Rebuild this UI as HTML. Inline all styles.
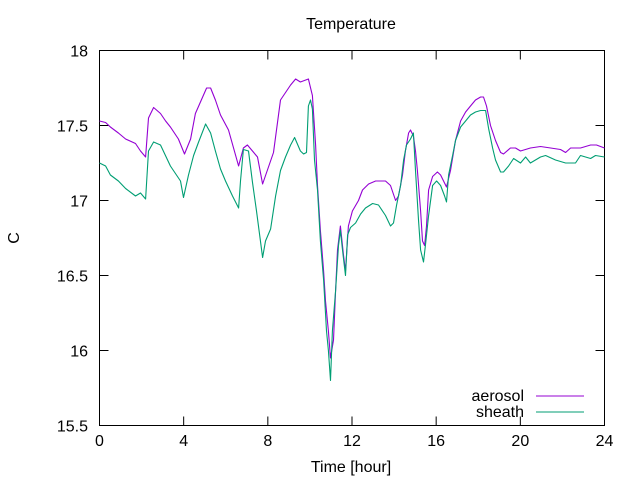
<!DOCTYPE html>
<html><head><meta charset="utf-8"><style>
html,body{margin:0;padding:0;background:#fff;}
svg{display:block;font-family:"Liberation Sans",Arial,sans-serif;}
</style></head><body>
<svg id="chart" width="640" height="480" viewBox="0 0 640 480" xmlns="http://www.w3.org/2000/svg">
<rect width="640" height="480" fill="#fff"/>
<g id="axes"></g>
<g id="series"></g>
<text x="351" y="29" font-size="16" text-anchor="middle">Temperature</text>
<text x="351" y="472" font-size="16" text-anchor="middle">Time [hour]</text>
<text x="19" y="238" font-size="16" text-anchor="middle" transform="rotate(-90 19 238)">C</text>
<g>
<text x="524" y="401" font-size="16" text-anchor="end">aerosol</text>
<line x1="536" y1="396" x2="584" y2="396" stroke="#9400d3" stroke-width="1"/>
<text x="524" y="417" font-size="16" text-anchor="end">sheath</text>
<line x1="536" y1="412" x2="584" y2="412" stroke="#009e73" stroke-width="1"/>
</g>
</svg>
<script>
const xTicks=[0,4,8,12,16,20,24];
const yTicks=[15.5,16,16.5,17,17.5,18];
const yTickLabels=["15.5","16","16.5","17","17.5","18"];
const aerosolHours=[0,0.29,0.52,0.9,1.24,1.71,1.95,2.19,2.33,2.57,2.9,3.14,3.37,3.75,4.04,4.33,4.56,5.09,5.28,5.51,5.75,6.13,6.61,6.84,7.03,7.51,7.75,8.27,8.6,9.08,9.32,9.55,9.93,10.12,10.27,10.36,10.5,10.65,10.74,10.88,10.98,11.12,11.22,11.31,11.45,11.6,11.69,11.83,12.02,12.31,12.5,12.79,13.12,13.59,13.83,14.07,14.21,14.4,14.54,14.69,14.78,14.92,15.02,15.11,15.26,15.35,15.45,15.54,15.64,15.83,16.06,16.21,16.49,16.68,16.92,17.16,17.4,17.63,17.87,18.11,18.25,18.39,18.58,18.82,19.06,19.2,19.53,19.77,20.01,20.48,20.96,21.44,21.91,22.15,22.39,22.86,23.34,23.62,24];
const aerosolValues=[17.53,17.52,17.49,17.45,17.41,17.38,17.33,17.29,17.55,17.62,17.58,17.53,17.49,17.41,17.31,17.41,17.58,17.75,17.75,17.67,17.57,17.47,17.23,17.35,17.37,17.29,17.11,17.32,17.67,17.77,17.81,17.79,17.81,17.7,17.37,17.1,16.8,16.53,16.33,16.13,15.95,16.07,16.4,16.67,16.83,16.63,16.53,16.83,16.93,17,17.07,17.11,17.13,17.13,17.1,17,17.03,17.17,17.33,17.45,17.47,17.43,17.33,17.2,16.93,16.73,16.7,16.83,17.07,17.16,17.19,17.17,17.09,17.2,17.4,17.53,17.59,17.63,17.67,17.69,17.69,17.63,17.5,17.4,17.32,17.31,17.35,17.35,17.33,17.35,17.36,17.35,17.34,17.32,17.35,17.35,17.37,17.37,17.35];
const sheathHours=[0,0.29,0.52,0.9,1.24,1.71,1.95,2.19,2.33,2.57,2.9,3.37,3.85,3.99,4.23,4.47,4.71,5.04,5.28,5.51,5.75,5.99,6.32,6.61,6.7,6.84,7.08,7.27,7.46,7.75,7.89,8.13,8.37,8.6,8.84,9.08,9.27,9.55,9.7,9.84,9.93,10.03,10.12,10.22,10.36,10.5,10.65,10.79,10.88,10.98,11.07,11.22,11.36,11.45,11.55,11.69,11.79,11.93,12.17,12.41,12.64,12.98,13.26,13.59,13.83,13.97,14.12,14.31,14.45,14.59,14.78,14.92,15.02,15.16,15.26,15.4,15.49,15.64,15.83,16.02,16.21,16.4,16.49,16.59,16.78,16.92,17.16,17.4,17.63,17.87,18.11,18.35,18.49,18.68,18.82,19.06,19.2,19.44,19.68,20.01,20.25,20.48,20.96,21.2,21.67,22.15,22.62,22.86,23.34,23.57,24];
const sheathValues=[17.25,17.23,17.17,17.13,17.08,17.03,17.05,17.01,17.33,17.39,17.37,17.23,17.13,17.02,17.17,17.3,17.39,17.51,17.45,17.33,17.21,17.13,17.03,16.95,17.13,17.34,17.33,17.12,16.93,16.62,16.73,16.81,17.03,17.2,17.29,17.37,17.42,17.33,17.31,17.32,17.63,17.67,17.61,17.27,17.07,16.73,16.47,16.13,16,15.8,16.13,16.4,16.7,16.8,16.67,16.5,16.77,16.82,16.85,16.91,16.95,16.98,16.97,16.9,16.83,16.85,16.97,17.1,17.27,17.37,17.41,17.45,17.2,16.87,16.67,16.59,16.7,16.9,17.1,17.13,17.1,17.03,16.99,17.17,17.3,17.4,17.49,17.53,17.57,17.59,17.6,17.6,17.48,17.35,17.27,17.19,17.19,17.23,17.28,17.25,17.29,17.25,17.29,17.3,17.27,17.25,17.25,17.3,17.28,17.3,17.29];

const X0=99.5,X1=604.5,Y0=425.5,Y1=50.5;
const xs=h=>X0+(X1-X0)*(h-0)/24;
const ys=v=>Y0-(Y0-Y1)*(v-15.5)/2.5;
const NS='http://www.w3.org/2000/svg';
const axes=document.getElementById('axes');
const series=document.getElementById('series');
function mk(tag,attrs,parent){const e=document.createElementNS(NS,tag);for(const k in attrs)e.setAttribute(k,attrs[k]);parent.appendChild(e);return e;}

const frame=mk('rect',{x:X0,y:Y1,width:X1-X0,height:Y0-Y1,fill:'none',stroke:'#000','stroke-width':1},axes);



xTicks.forEach(t=>{
  const x=xs(t);
  const a=mk('path',{d:`M${x},${Y0}v-9M${x},${Y1}v9`,stroke:'#000','stroke-width':1},axes);
  
  
  const l=mk('text',{x:x,y:446,'font-size':16,'text-anchor':'middle'},axes);
  l.textContent=String(t);
  
  
});
yTicks.forEach((t,i)=>{
  const y=ys(t);
  const a=mk('path',{d:`M${X0},${y}h9M${X1},${y}h-9`,stroke:'#000','stroke-width':1},axes);
  
  
  const l=mk('text',{x:88,y:y+6,'font-size':16,'text-anchor':'end'},axes);
  l.textContent=yTickLabels[i];
  
  
});
function line(hours,vals,color,name){
  const pts=hours.map((h,i)=>xs(h).toFixed(1)+','+ys(vals[i]).toFixed(1)).join(' ');
  const p=mk('polyline',{points:pts,fill:'none',stroke:color,'stroke-width':1.1,'stroke-linejoin':'round'},series);
  
  
}
line(aerosolHours,aerosolValues,'#9400d3','aerosol-line');
line(sheathHours,sheathValues,'#009e73','sheath-line');
</script>
</body></html>
